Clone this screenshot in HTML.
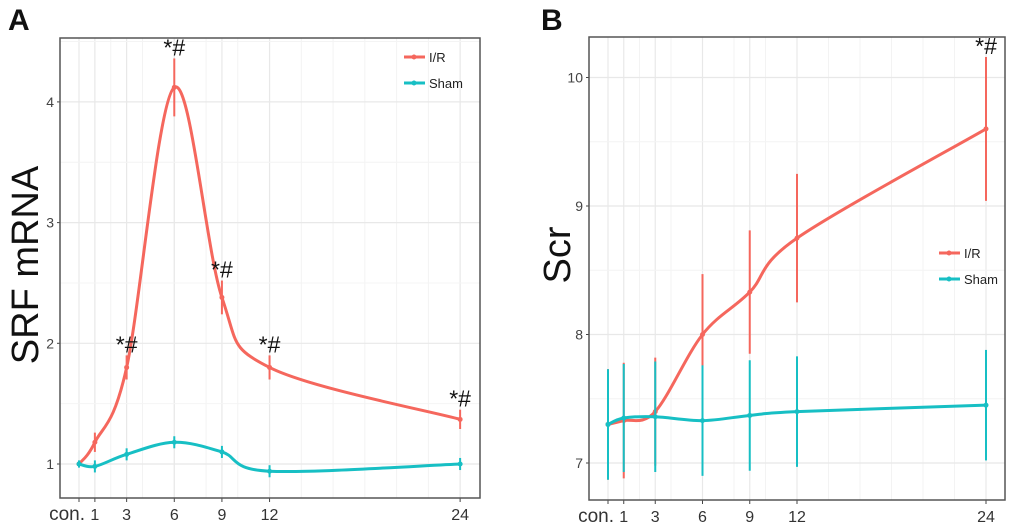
<!DOCTYPE html>
<html><head><meta charset="utf-8"><style>
body{margin:0;background:#fff;}
svg{display:block;font-family:"Liberation Sans",Arial,sans-serif;}
</style></head><body>
<svg id="s" width="1020" height="527"></svg>
<script>
const categories=["con.","1","3","6","9","12","24"];
const hours=[0,1,3,6,9,12,24];
const aIR=[1.0,1.18,1.8,4.12,2.38,1.8,1.37];
const aIRerr=[0.02,0.08,0.1,0.24,0.14,0.1,0.08];
const aSham=[1.0,0.98,1.08,1.18,1.1,0.94,1.0];
const aShamErr=[0.03,0.05,0.05,0.05,0.05,0.05,0.05];
const aStars=[false,false,true,true,true,true,true];
const aTicks=[1,2,3,4];
const bIR=[7.3,7.33,7.4,8.0,8.33,8.75,9.6];
const bIRerr=[0.43,0.45,0.42,0.47,0.48,0.5,0.56];
const bSham=[7.3,7.35,7.36,7.33,7.37,7.4,7.45];
const bShamErr=[0.43,0.42,0.43,0.43,0.43,0.43,0.43];
const bStars=[false,false,false,false,false,false,true];
const bTicks=[7,8,9,10];
const NS="http://www.w3.org/2000/svg";
const svg=document.getElementById('s');
function mk(t,a,p){const e=document.createElementNS(NS,t);for(const k in a)e.setAttribute(k,a[k]);(p||svg).appendChild(e);return e;}
function spline(pts){let d="M"+pts[0][0]+","+pts[0][1];for(let i=0;i<pts.length-1;i++){const p0=pts[Math.max(i-1,0)],p1=pts[i],p2=pts[i+1],p3=pts[Math.min(i+2,pts.length-1)];const t=6;d+=" C"+(p1[0]+(p2[0]-p0[0])/t)+","+(p1[1]+(p2[1]-p0[1])/t)+" "+(p2[0]-(p3[0]-p1[0])/t)+","+(p2[1]-(p3[1]-p1[1])/t)+" "+p2[0]+","+p2[1];}return d;}
function panel(cfg){
 const g=mk('g',{});
 
 
 const X=h=>cfg.x0+h*cfg.xs, Y=v=>cfg.y1-(v-cfg.v1)*cfg.ys;
 mk('rect',{x:cfg.L,y:cfg.T,width:cfg.R-cfg.L,height:cfg.B-cfg.T,fill:'#fff'},g);
 for(let h=0;h<=26;h+=2){const x=X(h);if(x>cfg.L&&x<cfg.R){mk('line',{x1:x,x2:x,y1:cfg.T,y2:cfg.B,stroke:'#f3f3f3','stroke-width':1},g);}}
 hours.forEach(h=>{mk('line',{x1:X(h),x2:X(h),y1:cfg.T,y2:cfg.B,stroke:'#e8e8e8','stroke-width':1.2},g);});
 cfg.ticks.forEach((t,i)=>{const y=Y(t);mk('line',{x1:cfg.L,x2:cfg.R,y1:y,y2:y,stroke:'#e8e8e8','stroke-width':1.2},g);
  const ym=Y(t+0.5);if(ym>cfg.T)mk('line',{x1:cfg.L,x2:cfg.R,y1:ym,y2:ym,stroke:'#f4f4f4','stroke-width':1},g);
  const tx=mk('text',{x:cfg.L-6,y:y+5,'text-anchor':'end','font-size':14,fill:'#444'},g);tx.textContent=t;
  
  mk('line',{x1:cfg.L-3,x2:cfg.L,y1:y,y2:y,stroke:'#444'},g);});
 const bm=Y(cfg.ticks[0]-0.5);if(bm<cfg.B)mk('line',{x1:cfg.L,x2:cfg.R,y1:bm,y2:bm,stroke:'#f4f4f4'},g);
 hours.forEach((h,i)=>{const x=X(h);mk('line',{x1:x,x2:x,y1:cfg.B,y2:cfg.B+4,stroke:'#444'},g);
  const tx=mk('text',{x:x,y:cfg.B+22,'text-anchor':i==0?'end':'middle','font-size':i==0?19:16,fill:'#333'},g);
  if(i==0)tx.setAttribute('x',x+6);tx.textContent=categories[i];
  });
 [[cfg.ir,cfg.irErr,'#f5675d','ir'],[cfg.sham,cfg.shamErr,'#17bfc4','sham']].forEach(([vals,err,col,nm])=>{
  vals.forEach((v,i)=>{const e=mk('line',{x1:X(hours[i]),x2:X(hours[i]),y1:Y(v-err[i]),y2:Y(v+err[i]),stroke:col,'stroke-width':2},g);
   });
  const p=mk('path',{d:spline(vals.map((v,i)=>[X(hours[i]),Y(v)])),fill:'none',stroke:col,'stroke-width':3},g);
  
  vals.forEach((v,i)=>{const c=mk('circle',{cx:X(hours[i]),cy:Y(v),r:2.5,fill:col},g);
   });
 });
 cfg.stars.forEach((s,i)=>{if(!s)return;const tx=mk('text',{x:X(hours[i]),y:Y(cfg.ir[i]+cfg.irErr[i])-3,'text-anchor':'middle','font-size':23,fill:'#111'},g);tx.textContent='*#';
  });
 mk('rect',{x:cfg.L,y:cfg.T,width:cfg.R-cfg.L,height:cfg.B-cfg.T,fill:'none',stroke:'#555','stroke-width':1.5},g);
 [['I/R','#f5675d'],['Sham','#17bfc4']].forEach(([lb,col],i)=>{const y=cfg.ly+i*26;
  const lg=mk('g',{},g);
  mk('line',{x1:cfg.lx,x2:cfg.lx+21,y1:y,y2:y,stroke:col,'stroke-width':3},lg);
  mk('circle',{cx:cfg.lx+10,cy:y,r:2.5,fill:col},lg);
  const t=mk('text',{x:cfg.lx+25,y:y+5,'font-size':13,fill:'#222'},lg);t.textContent=lb;});
 const yt=mk('text',{x:0,y:0,transform:`translate(${cfg.ytx},${cfg.yty}) rotate(-90)`,'text-anchor':'middle','font-size':cfg.ytf,fill:'#111'},g);
 yt.textContent=cfg.ytitle;
 const pl=mk('text',{x:cfg.px,y:30,'font-size':30,'font-weight':'bold',fill:'#111'},g);pl.textContent=cfg.plabel;
 
}
panel({name:'panel-a',L:60,R:480,T:38,B:498,x0:79,xs:15.88,y1:464,v1:1,ys:120.7,ticks:aTicks,ir:aIR,irErr:aIRerr,sham:aSham,shamErr:aShamErr,stars:aStars,lx:404,ly:57,ytx:38,yty:265,ytf:38,ytitle:'SRF mRNA',px:8,plabel:'A'});
panel({name:'panel-b',L:589,R:1005,T:37,B:500,x0:608,xs:15.75,y1:463,v1:7,ys:128.5,ticks:bTicks,ir:bIR,irErr:bIRerr,sham:bSham,shamErr:bShamErr,stars:bStars,lx:939,ly:253,ytx:570,yty:255,ytf:38,ytitle:'Scr',px:541,plabel:'B'});
</script>
</body></html>
